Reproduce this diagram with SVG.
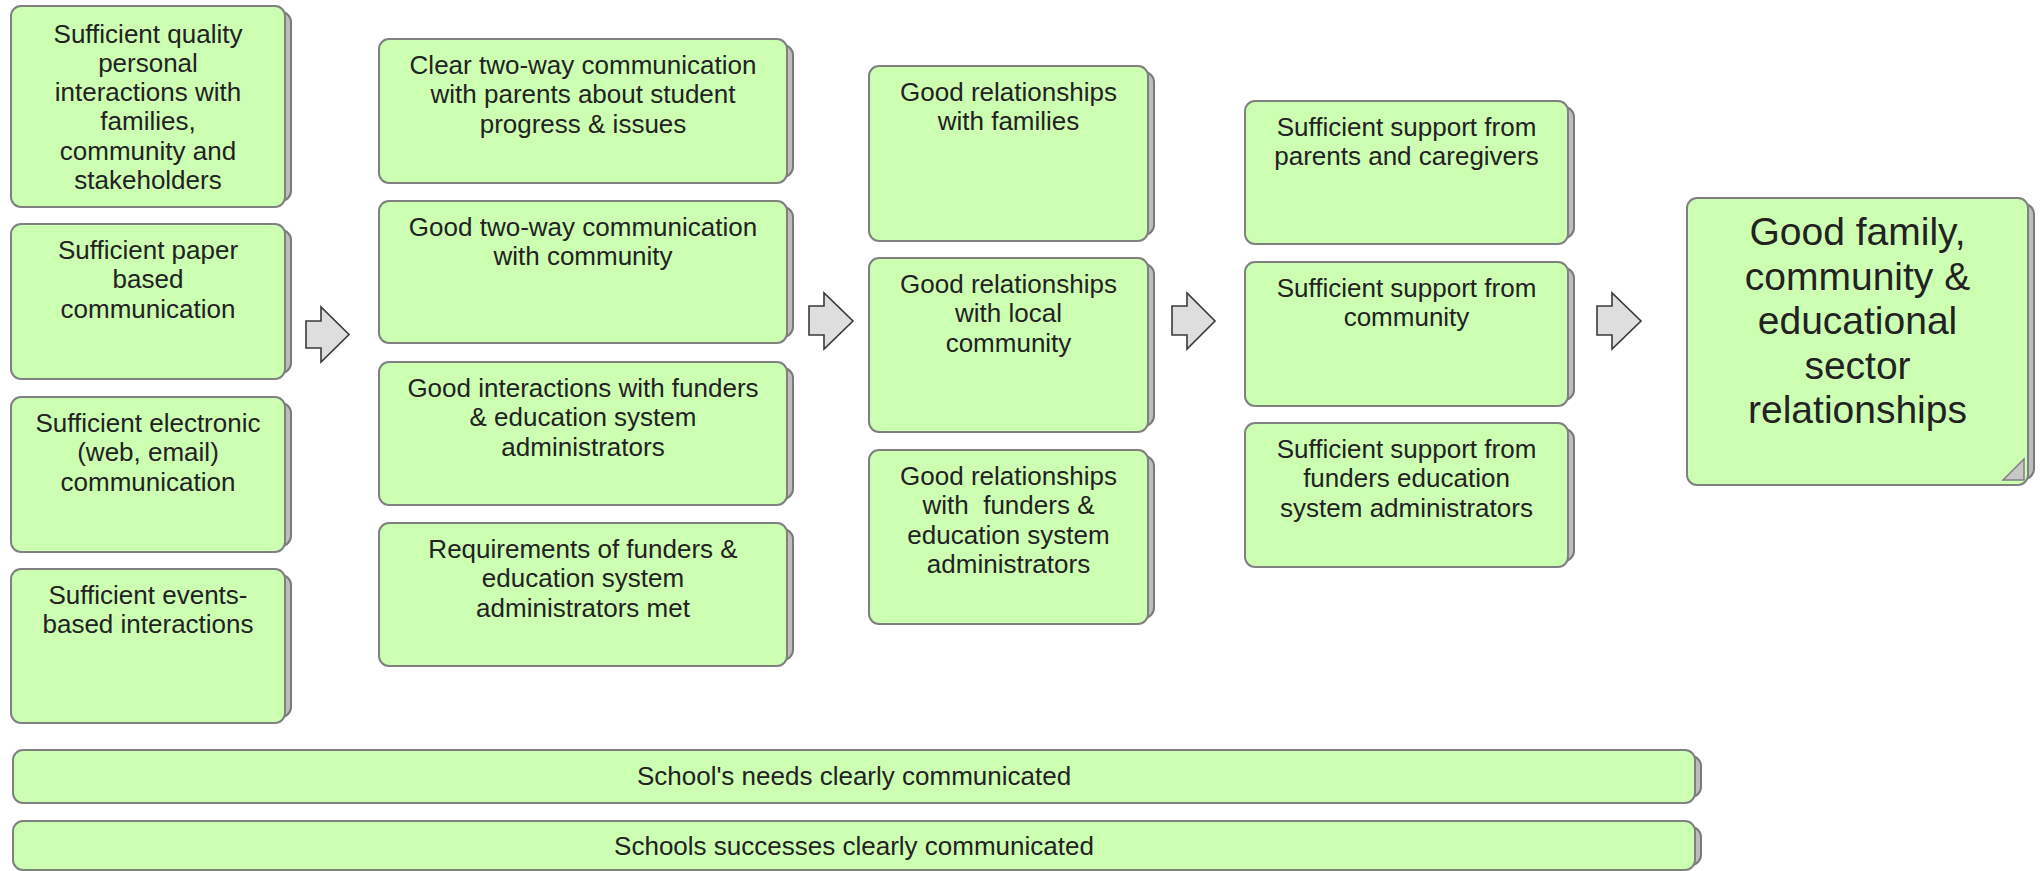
<svg xmlns="http://www.w3.org/2000/svg" width="2043" height="871" viewBox="0 0 2043 871">
<style>
.bx{fill:#ccffb2;stroke:#808080;stroke-width:2}
.sh{fill:#bdbdbd;stroke:#7a7a7a;stroke-width:2}
.t{font-family:"Liberation Sans",Arial,sans-serif;font-size:26px;fill:#222;text-anchor:middle}
.tb{font-family:"Liberation Sans",Arial,sans-serif;font-size:39px;fill:#222;text-anchor:middle}
.ar{fill:#dedede;stroke:#3a3a3a;stroke-width:1.6;stroke-linejoin:miter}
</style>
<rect width="2043" height="871" fill="#ffffff"/>

<g id="n-personal">
<rect class="sh" x="17" y="12" width="274" height="189" rx="10"/>
<rect class="bx" x="11" y="6" width="274" height="201" rx="10"/>
<text class="t" x="148" y="42.5">Sufficient quality</text>
<text class="t" x="148" y="71.8">personal</text>
<text class="t" x="148" y="101.1">interactions with</text>
<text class="t" x="148" y="130.4">families,</text>
<text class="t" x="148" y="159.7">community and</text>
<text class="t" x="148" y="189">stakeholders</text>
</g>
<g id="n-paper">
<rect class="sh" x="17" y="230" width="274" height="143" rx="10"/>
<rect class="bx" x="11" y="224" width="274" height="155" rx="10"/>
<text class="t" x="148" y="258.5">Sufficient paper</text>
<text class="t" x="148" y="288">based</text>
<text class="t" x="148" y="317.5">communication</text>
</g>
<g id="n-electronic">
<rect class="sh" x="17" y="403" width="274" height="143" rx="10"/>
<rect class="bx" x="11" y="397" width="274" height="155" rx="10"/>
<text class="t" x="148" y="431.5">Sufficient electronic</text>
<text class="t" x="148" y="461">(web, email)</text>
<text class="t" x="148" y="490.5">communication</text>
</g>
<g id="n-events">
<rect class="sh" x="17" y="575" width="274" height="142" rx="10"/>
<rect class="bx" x="11" y="569" width="274" height="154" rx="10"/>
<text class="t" x="148" y="603.5">Sufficient events-</text>
<text class="t" x="148" y="633">based interactions</text>
</g>

<g id="n-parents-comm">
<rect class="sh" x="385" y="45" width="408" height="132" rx="10"/>
<rect class="bx" x="379" y="39" width="408" height="144" rx="10"/>
<text class="t" x="583" y="73.5">Clear two-way communication</text>
<text class="t" x="583" y="103">with parents about student</text>
<text class="t" x="583" y="132.5">progress &amp; issues</text>
</g>
<g id="n-community-comm">
<rect class="sh" x="385" y="207" width="408" height="130" rx="10"/>
<rect class="bx" x="379" y="201" width="408" height="142" rx="10"/>
<text class="t" x="583" y="235.5">Good two-way communication</text>
<text class="t" x="583" y="265">with community</text>
</g>
<g id="n-funders-int">
<rect class="sh" x="385" y="368" width="408" height="131" rx="10"/>
<rect class="bx" x="379" y="362" width="408" height="143" rx="10"/>
<text class="t" x="583" y="396.5">Good interactions with funders</text>
<text class="t" x="583" y="426">&amp; education system</text>
<text class="t" x="583" y="455.5">administrators</text>
</g>
<g id="n-requirements">
<rect class="sh" x="385" y="529" width="408" height="131" rx="10"/>
<rect class="bx" x="379" y="523" width="408" height="143" rx="10"/>
<text class="t" x="583" y="557.5">Requirements of funders &amp;</text>
<text class="t" x="583" y="587">education system</text>
<text class="t" x="583" y="616.5">administrators met</text>
</g>

<g id="n-rel-families">
<rect class="sh" x="875" y="72" width="279" height="163" rx="10"/>
<rect class="bx" x="869" y="66" width="279" height="175" rx="10"/>
<text class="t" x="1008.5" y="100.5">Good relationships</text>
<text class="t" x="1008.5" y="130">with families</text>
</g>
<g id="n-rel-community">
<rect class="sh" x="875" y="264" width="279" height="162" rx="10"/>
<rect class="bx" x="869" y="258" width="279" height="174" rx="10"/>
<text class="t" x="1008.5" y="292.5">Good relationships</text>
<text class="t" x="1008.5" y="322">with local</text>
<text class="t" x="1008.5" y="351.5">community</text>
</g>
<g id="n-rel-funders">
<rect class="sh" x="875" y="456" width="279" height="162" rx="10"/>
<rect class="bx" x="869" y="450" width="279" height="174" rx="10"/>
<text class="t" x="1008.5" y="484.5">Good relationships</text>
<text class="t" x="1008.5" y="514" style="white-space:pre">with  funders &amp;</text>
<text class="t" x="1008.5" y="543.5">education system</text>
<text class="t" x="1008.5" y="573">administrators</text>
</g>

<g id="n-sup-parents">
<rect class="sh" x="1251" y="107" width="323" height="131" rx="10"/>
<rect class="bx" x="1245" y="101" width="323" height="143" rx="10"/>
<text class="t" x="1406.5" y="135.5">Sufficient support from</text>
<text class="t" x="1406.5" y="165">parents and caregivers</text>
</g>
<g id="n-sup-community">
<rect class="sh" x="1251" y="268" width="323" height="132" rx="10"/>
<rect class="bx" x="1245" y="262" width="323" height="144" rx="10"/>
<text class="t" x="1406.5" y="296.5">Sufficient support from</text>
<text class="t" x="1406.5" y="326">community</text>
</g>
<g id="n-sup-funders">
<rect class="sh" x="1251" y="429" width="323" height="132" rx="10"/>
<rect class="bx" x="1245" y="423" width="323" height="144" rx="10"/>
<text class="t" x="1406.5" y="457.5">Sufficient support from</text>
<text class="t" x="1406.5" y="487">funders education</text>
<text class="t" x="1406.5" y="516.5">system administrators</text>
</g>

<g id="n-outcome">
<rect class="sh" x="1693" y="204" width="341" height="275" rx="10"/>
<rect class="bx" x="1687" y="198" width="341" height="287" rx="10"/>
<path d="M2003,480 L2024,459 L2024,480 Z" fill="#c8c8c8" stroke="#808080" stroke-width="1.5"/>
<text class="tb" x="1857.5" y="245">Good family,</text>
<text class="tb" x="1857.5" y="289.5">community &amp;</text>
<text class="tb" x="1857.5" y="334">educational</text>
<text class="tb" x="1857.5" y="378.5">sector</text>
<text class="tb" x="1857.5" y="423">relationships</text>
</g>

<g id="n-needs">
<rect class="sh" x="19" y="756" width="1682" height="41" rx="10"/>
<rect class="bx" x="13" y="750" width="1682" height="53" rx="10"/>
<text class="t" x="854" y="785">School's needs clearly communicated</text>
</g>
<g id="n-successes">
<rect class="sh" x="19" y="827" width="1682" height="38" rx="10"/>
<rect class="bx" x="13" y="821" width="1682" height="49" rx="10"/>
<text class="t" x="854" y="855">Schools successes clearly communicated</text>
</g>

<g id="connectors">
<path class="ar" d="M306,321 H321 V307 L349,334.5 L321,362 V348 H306 Z"/>
<path class="ar" d="M809,306 H824 V293 L853,321 L824,349 V335 H809 Z"/>
<path class="ar" d="M1172,306 H1187 V293 L1215,321 L1187,349 V335 H1172 Z"/>
<path class="ar" d="M1597,306 H1612 V293 L1641,321 L1612,349 V335 H1597 Z"/>
</g>
</svg>
